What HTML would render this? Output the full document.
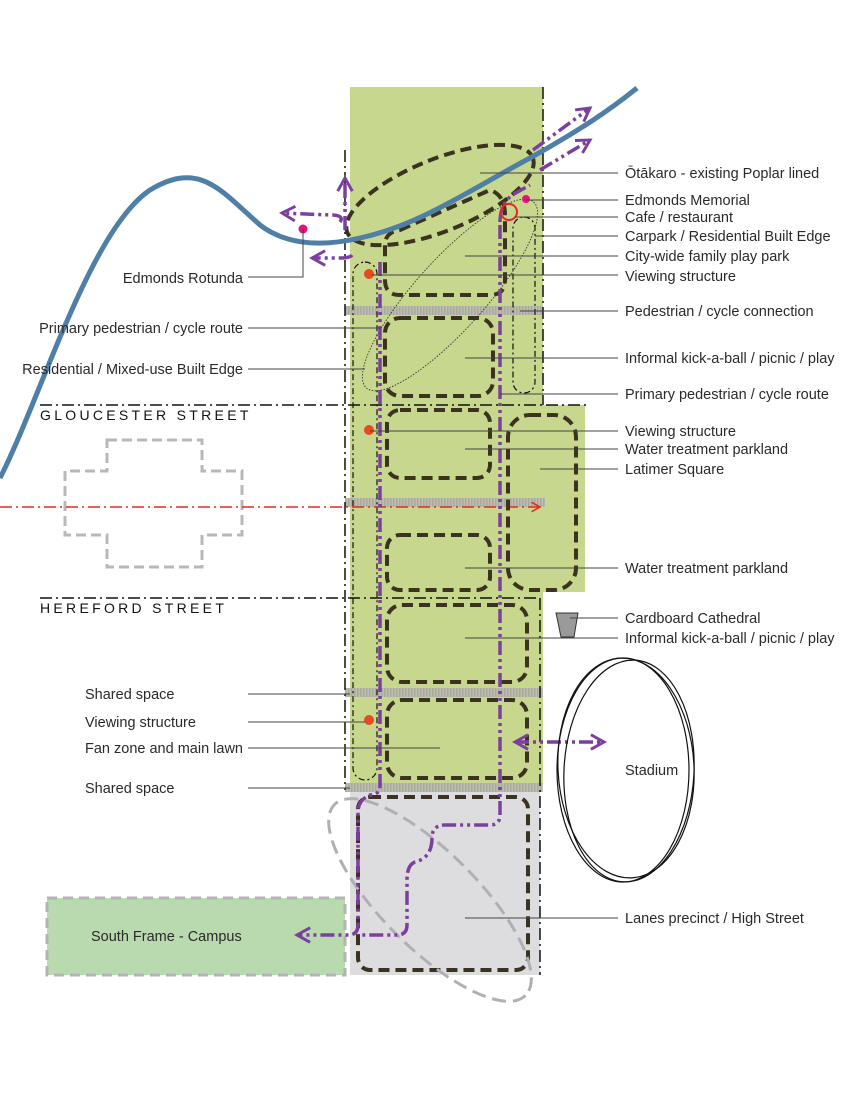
<!DOCTYPE html>
<html><head><meta charset="utf-8"><style>
html,body{margin:0;padding:0;background:#fff}
svg{display:block}
text{font-family:"Liberation Sans",sans-serif;font-size:14.5px;fill:#2a2a2a}
.st{font-size:14px;letter-spacing:3.3px;fill:#111}
</style></head><body>
<svg width="855" height="1107" viewBox="0 0 855 1107" xmlns="http://www.w3.org/2000/svg">
<defs>
<pattern id="hatch" width="3" height="10" patternUnits="userSpaceOnUse"><rect width="3" height="10" fill="#bdbdb0"/><rect width="1.5" height="10" fill="#a9a99c"/></pattern>
<marker id="ap" viewBox="0 0 12 12" refX="10" refY="6" markerWidth="5" markerHeight="5" orient="auto-start-reverse"><path d="M1,1 L10,6 L1,11" fill="none" stroke="#7b3f9e" stroke-width="2"/></marker>
<marker id="ar" viewBox="0 0 12 12" refX="10" refY="6" markerWidth="7" markerHeight="7" orient="auto"><path d="M1,1 L10,6 L1,11" fill="none" stroke="#e8281e" stroke-width="1.6"/></marker>
</defs>
<rect x="350" y="87" width="193" height="700" fill="#c8d78e"/>
<rect x="506" y="405" width="79" height="187" fill="#c8d78e"/>
<rect x="350" y="790" width="190" height="185" fill="#dddde0"/>
<rect x="47" y="898" width="298" height="77" fill="#b9d9ae"/>
<rect x="47" y="898" width="298" height="77" fill="none" stroke="#b4b4b4" stroke-width="3" stroke-dasharray="10 6"/>
<rect x="345" y="306" width="198" height="9" fill="url(#hatch)"/>
<rect x="345" y="498" width="200" height="9" fill="url(#hatch)"/>
<rect x="345" y="688" width="198" height="9" fill="url(#hatch)"/>
<rect x="345" y="783" width="198" height="9" fill="url(#hatch)"/>
<g stroke="#111" stroke-width="1.5" stroke-dasharray="12 4 2 4" fill="none">
<line x1="40" y1="405" x2="590" y2="405"/>
<line x1="40" y1="598" x2="540" y2="598"/>
<line x1="345" y1="150" x2="345" y2="790"/>
<line x1="543" y1="87" x2="543" y2="405"/>
<line x1="540" y1="598" x2="540" y2="975"/>
</g>
<g stroke="#111" stroke-width="1.2" stroke-dasharray="6 3 2 3" fill="none">
<rect x="353" y="262" width="24" height="518" rx="12"/>
<rect x="513" y="217" width="22" height="176" rx="11"/>
</g>
<path d="M107,440 H202 V471 H242 V535 H202 V567 H107 V535 H65 V471 H107 Z" fill="none" stroke="#b8b8bb" stroke-width="3" stroke-dasharray="10 5"/>
<line x1="0" y1="507" x2="540" y2="507" stroke="#e8281e" stroke-width="1.6" stroke-dasharray="12 4 2 4" marker-end="url(#ar)"/>
<ellipse cx="450" cy="295" rx="125" ry="35" transform="rotate(-48 450 295)" fill="none" stroke="#333" stroke-width="0.9" stroke-dasharray="1.5 1.5"/>
<g fill="none" stroke="#3b3220" stroke-width="4" stroke-dasharray="11 6">
<ellipse cx="440" cy="195" rx="100" ry="36" transform="rotate(-22 440 195)"/>
<path d="M400,230 L490,190 Q505,195 505,215 L505,280 Q505,295 490,295 L400,295 Q385,295 385,280 L385,245 Q385,232 400,230 Z"/>
<rect x="385" y="318" width="108" height="78" rx="15"/>
<rect x="387" y="410" width="103" height="68" rx="13"/>
<rect x="387" y="535" width="103" height="55" rx="13"/>
<rect x="508" y="415" width="68" height="175" rx="22"/>
<rect x="387" y="605" width="140" height="77" rx="15"/>
<rect x="387" y="700" width="140" height="78" rx="15"/>
<rect x="358" y="797" width="170" height="173" rx="12"/>
</g>
<ellipse cx="430" cy="900" rx="135" ry="48" transform="rotate(45 430 900)" fill="none" stroke="#b0b0b4" stroke-width="3" stroke-dasharray="14 7"/>
<path d="M0,478 C40,400 90,230 150,190 C200,160 220,190 260,225 C290,248 330,245 360,238 C420,225 470,190 530,158 C580,130 610,110 637,88" fill="none" stroke="#4f7fa6" stroke-width="5"/>
<g fill="none" stroke="#7b3f9e" stroke-width="3.5" stroke-dasharray="14 4 3 4 3 4">
<path d="M380,262 L380,785 Q380,795 370,795 Q358,800 358,812 L358,925 Q358,935 348,935 L297,935" marker-end="url(#ap)"/>
<path d="M500,222 Q500,205 512,195 L530,185"/>
<path d="M500,225 L500,815 Q500,825 490,825 L445,825 Q432,825 432,838 Q432,858 415,862 Q407,865 407,880 L407,925 Q407,935 397,935 L358,935"/>
<path d="M345,230 L345,178" marker-end="url(#ap)"/>
<path d="M340,222 Q345,215 330,215 L282,213" marker-end="url(#ap)"/>
<path d="M352,255 Q350,258 340,258 L312,258" marker-end="url(#ap)"/>
<path d="M533,150 L590,108" marker-end="url(#ap)"/>
<path d="M540,170 L590,140" marker-end="url(#ap)"/>
<path d="M515,742 L604,742" marker-start="url(#ap)" marker-end="url(#ap)"/>
</g>
<circle cx="303" cy="229" r="4.5" fill="#e4127f"/>
<circle cx="526" cy="199" r="4" fill="#e4127f"/>
<circle cx="509" cy="212" r="8" fill="none" stroke="#e8281e" stroke-width="2"/>
<circle cx="369" cy="274" r="5" fill="#e8491e"/>
<circle cx="369" cy="430" r="5" fill="#e8491e"/>
<circle cx="369" cy="720" r="5" fill="#e8491e"/>
<path d="M556,613 L578,613 L574,637 L561,637 Z" fill="#9a9a9a" stroke="#333" stroke-width="1"/>
<g fill="none" stroke="#111" stroke-width="1.2">
<ellipse cx="623" cy="770" rx="66" ry="112"/>
<ellipse cx="626" cy="768" rx="68" ry="110" transform="rotate(-3 626 768)"/>
<ellipse cx="629" cy="771" rx="65" ry="111" transform="rotate(3 629 771)"/>
</g>
<g stroke="#444" stroke-width="1" fill="none">
<path d="M480,173 H618 M526,200 H618 M515,217 H618 M535,236 H618 M465,256 H618 M372,275 H618 M520,311 H618 M465,358 H618 M500,394 H618 M370,431 H618 M465,449 H618 M540,469 H618 M465,568 H618 M570,618 H618 M465,638 H618 M465,918 H618"/>
<path d="M303,229 V277 H248"/>
<path d="M248,328 H380 M248,369 H365 M248,694 H350 M248,722 H365 M248,748 H440 M248,788 H350"/>
</g>
<text x="625" y="178">Ōtākaro - existing Poplar lined</text>
<text x="625" y="205">Edmonds Memorial</text>
<text x="625" y="222">Cafe / restaurant</text>
<text x="625" y="241">Carpark / Residential Built Edge</text>
<text x="625" y="261">City-wide family play park</text>
<text x="625" y="281">Viewing structure</text>
<text x="625" y="316">Pedestrian / cycle connection</text>
<text x="625" y="363">Informal kick-a-ball / picnic / play</text>
<text x="625" y="399">Primary pedestrian / cycle route</text>
<text x="625" y="436">Viewing structure</text>
<text x="625" y="454">Water treatment parkland</text>
<text x="625" y="474">Latimer Square</text>
<text x="625" y="573">Water treatment parkland</text>
<text x="625" y="623">Cardboard Cathedral</text>
<text x="625" y="643">Informal kick-a-ball / picnic / play</text>
<text x="625" y="775">Stadium</text>
<text x="625" y="923">Lanes precinct / High Street</text>
<text x="243" y="283" text-anchor="end">Edmonds Rotunda</text>
<text x="243" y="333" text-anchor="end">Primary pedestrian / cycle route</text>
<text x="243" y="374" text-anchor="end">Residential / Mixed-use Built Edge</text>
<text x="85" y="699">Shared space</text>
<text x="85" y="727">Viewing structure</text>
<text x="85" y="753">Fan zone and main lawn</text>
<text x="85" y="793">Shared space</text>
<text x="91" y="941">South Frame - Campus</text>
<text class="st" x="40" y="420">GLOUCESTER STREET</text>
<text class="st" x="40" y="613">HEREFORD STREET</text>
</svg>
</body></html>
